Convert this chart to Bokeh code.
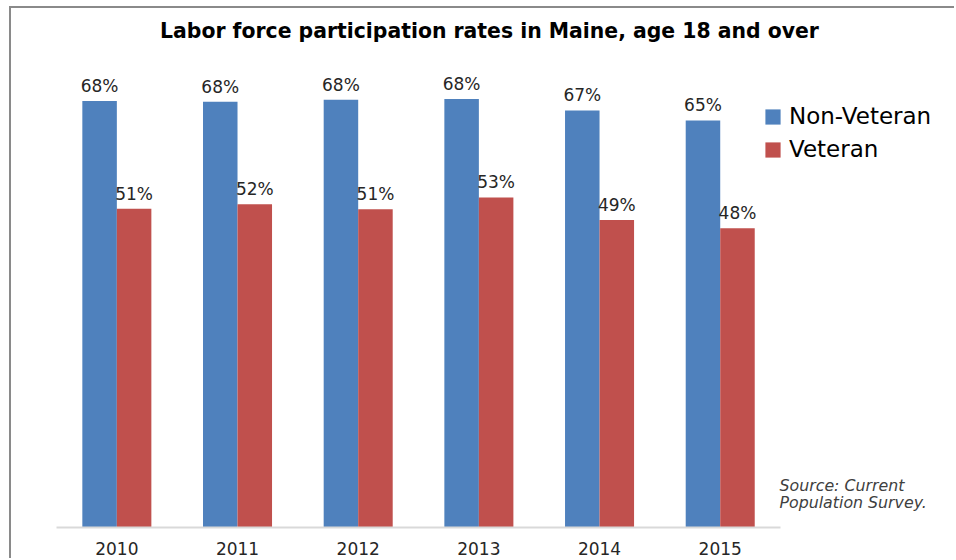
from bokeh.plotting import figure
from bokeh.models import (ColumnDataSource, Range1d, Legend, LegendItem, Label,
                          FixedTicker)
from bokeh.core.properties import value
from bokeh.embed import file_html
from bokeh.resources import INLINE

# ---- data ----
years = ["2010", "2011", "2012", "2013", "2014", "2015"]
non_veteran = [68.1, 68.0, 68.3, 68.4, 66.6, 65.0]
veteran = [50.9, 51.6, 50.8, 52.7, 49.1, 47.8]
series_names = ["Non-Veteran", "Veteran"]
title_text = "Labor force participation rates in Maine, age 18 and over"
source_text = "Source: Current\nPopulation Survey."

BLUE = "#4f81bd"
RED = "#c0504d"
FONT = "DejaVu Sans"
BAR_W = 0.286

idx = list(range(len(years)))
src = ColumnDataSource(dict(
    x_nonvet=[i - BAR_W / 2 for i in idx],
    x_vet=[i + BAR_W / 2 for i in idx],
    nonvet=non_veteran,
    vet=veteran,
    nonvet_lbl=[f"{round(v)}%" for v in non_veteran],
    vet_lbl=[f"{round(v)}%" for v in veteran],
))

p = figure(width=945, height=552,
           x_range=Range1d(-0.873, 6.958), y_range=Range1d(0, 82.87),
           output_backend="svg", toolbar_location=None, y_axis_location=None,
           min_border_left=0, min_border_right=0,
           min_border_top=0, min_border_bottom=33)
p.styles = {"border-top": "2px solid #8a8a8a", "border-left": "2px solid #8a8a8a",
            "margin-left": "9px", "margin-top": "6px"}

r1 = p.vbar(x="x_nonvet", top="nonvet", width=BAR_W, source=src,
            fill_color=BLUE, line_color=None)
r2 = p.vbar(x="x_vet", top="vet", width=BAR_W, source=src,
            fill_color=RED, line_color=None)

for xcol, col, lbl in (("x_nonvet", "nonvet", "nonvet_lbl"), ("x_vet", "vet", "vet_lbl")):
    p.text(x=xcol, y=col, text=lbl, source=src,
           text_align="center", text_baseline="alphabetic", y_offset=-15,
           text_font=value(FONT), text_font_size="17px", text_color="#262626")

legend = Legend(items=[LegendItem(label=series_names[0], renderers=[r1]),
                       LegendItem(label=series_names[1], renderers=[r2])],
                location=(752, 365), glyph_width=19, glyph_height=19,
                label_standoff=7, spacing=7, padding=0, margin=0,
                border_line_color=None, background_fill_alpha=0,
                label_text_font_size="23px", label_text_font=FONT,
                label_text_color="#000000")
p.add_layout(legend)

p.add_layout(Label(x=478, y=497, x_units="screen", y_units="screen", text=title_text,
                   text_align="center", text_baseline="alphabetic",
                   text_font=FONT, text_font_style="bold", text_font_size="20.4px",
                   text_color="#000000"))

p.add_layout(Label(x=768, y=52, x_units="screen", y_units="screen", text=source_text,
                   text_align="left", text_baseline="top",
                   text_font=FONT, text_font_style="italic", text_font_size="15.8px",
                   text_line_height=0.92, text_color="#404040"))

ax = p.xaxis[0]
ax.ticker = FixedTicker(ticks=idx)
ax.major_label_overrides = {i: y for i, y in zip(idx, years)}
ax.bounds = (-0.5, len(years) - 0.5)
ax.major_label_text_font = FONT
ax.major_label_text_font_size = "17px"
ax.major_label_text_color = "#262626"
ax.major_label_standoff = 8
ax.major_tick_line_color = None
ax.minor_tick_line_color = None
ax.axis_line_color = "#d9d9d9"
ax.axis_line_width = 2

p.xgrid.grid_line_color = None
p.ygrid.grid_line_color = None
p.outline_line_color = None

open("out.html", "w").write(file_html(p, INLINE))
